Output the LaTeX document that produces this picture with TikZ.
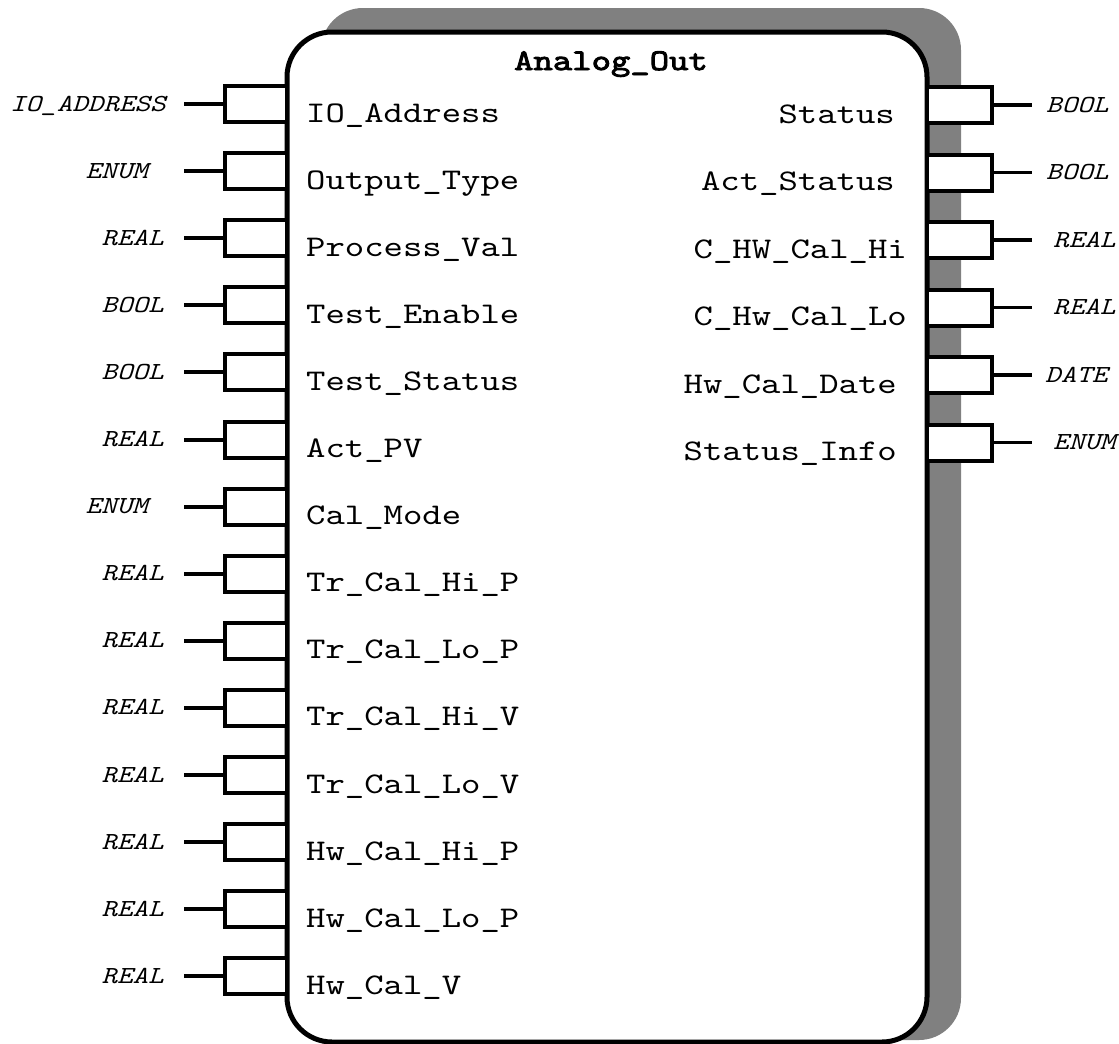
\documentclass[tikz,border=0pt]{standalone}
\usepackage{fontspec}
\newfontfamily\pinfont{lmmono10-regular}[Extension=.otf,FakeStretch=1.23]
\newfontfamily\titlefont{lmmono10-regular}[Extension=.otf,FakeStretch=1.23,FakeBold=3]
\newfontfamily\typefont{lmmono10-italic}[Extension=.otf,FakeStretch=1.21]
\begin{document}
\begin{tikzpicture}[x=1pt,y=-1pt,
  shadowbox/.style={fill=black!50,rounded corners=42pt,minimum width=640pt,minimum height=1032pt,inner sep=0pt,outer sep=0pt},
  mainbox/.style={draw,line width=5pt,fill=white,rounded corners=45pt,minimum width=640pt,minimum height=1010pt,inner sep=0pt,outer sep=0pt},
  pinboxL/.style={draw,line width=4pt,fill=white,minimum width=62pt,minimum height=36pt,inner sep=0pt,outer sep=0pt},
  pinboxR/.style={draw,line width=4pt,fill=white,minimum width=65pt,minimum height=36pt,inner sep=0pt,outer sep=0pt},
  stubL/.style={line width=4pt},
  stubR/.style={line width=3.4pt},
  pinlabel/.style={inner sep=0pt,font=\pinfont\fontsize{30}{36}\selectfont},
  typelabel/.style={inner sep=0pt,font=\typefont\fontsize{24.5}{29}\selectfont},
  titlelabel/.style={inner sep=0pt,font=\titlefont\fontsize{30}{36}\selectfont}]
\useasboundingbox (0,0) rectangle (1119,1044);
\clip (0,0) rectangle (1119,1044);
% shadow and function block
\node[shadowbox] (shadow) at (641,524) {};
\node[mainbox] (fb) at (607,537) {};
\node[titlelabel,anchor=base] (title) at (611,70) {Analog\_Out};
% left pins
\foreach \n/\typ/\tx [count=\i from 0] in {
  IO\_Address/IO\_ADDRESS/166, Output\_Type/ENUM/148, Process\_Val/REAL/164,
  Test\_Enable/BOOL/164, Test\_Status/BOOL/164, Act\_PV/REAL/164,
  Cal\_Mode/ENUM/148, Tr\_Cal\_Hi\_P/REAL/164, Tr\_Cal\_Lo\_P/REAL/164,
  Tr\_Cal\_Hi\_V/REAL/164, Tr\_Cal\_Lo\_V/REAL/164, Hw\_Cal\_Hi\_P/REAL/164,
  Hw\_Cal\_Lo\_P/REAL/164, Hw\_Cal\_V/REAL/164} {
  \pgfmathsetmacro\yy{104+67.1*\i}
  \node[pinboxL] (L\i) at (256,\yy) {};
  \coordinate (Le\i) at (184,\yy);
  \draw[stubL] (L\i.west) -- (Le\i);
  \node[typelabel,anchor=base east] (Lt\i) at (\tx,{\yy+7}) {\typ};
  \node[pinlabel,anchor=base west] (Ln\i) at (306,{\yy+18}) {\n};
}
% right pins
\foreach \n/\nx/\typ/\tx [count=\i from 0] in {
  Status/895/BOOL/1046, Act\_Status/895/BOOL/1046, C\_HW\_Cal\_Hi/907/REAL/1053,
  C\_Hw\_Cal\_Lo/907/REAL/1053, Hw\_Cal\_Date/897/DATE/1045, Status\_Info/897/ENUM/1053} {
  \pgfmathsetmacro\yy{105+67.5*\i}
  \node[pinboxR] (R\i) at (959.5,\yy) {};
  \coordinate (Re\i) at (1032,\yy);
  \draw[stubR] (R\i.east) -- (Re\i);
  \node[typelabel,anchor=base west] (Rt\i) at (\tx,{\yy+7}) {\typ};
  \node[pinlabel,anchor=base east] (Rn\i) at (\nx,{\yy+18}) {\n};
}
\end{tikzpicture}
\end{document}
